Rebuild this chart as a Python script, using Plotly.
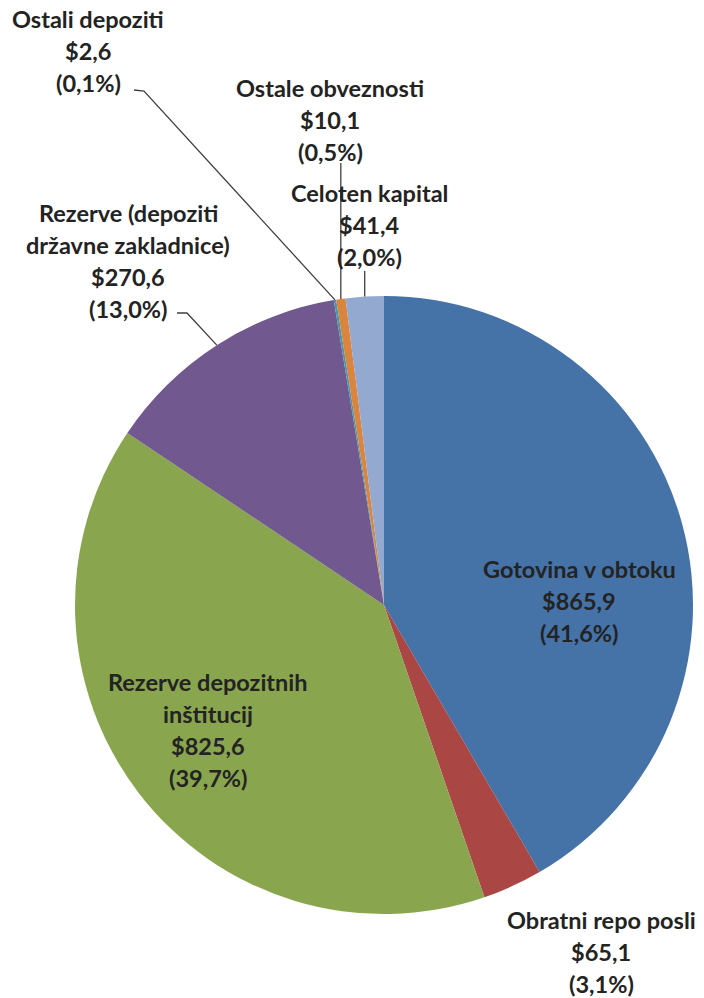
import math
import plotly.graph_objects as go

# Federal Reserve liabilities and capital (billions of USD)
categories = [
    "Gotovina v obtoku",
    "Obratni repo posli",
    "Rezerve depozitnih inštitucij",
    "Rezerve (depoziti državne zakladnice)",
    "Ostali depoziti",
    "Ostale obveznosti",
    "Celoten kapital",
]
values = [865.9, 65.1, 825.6, 270.6, 2.6, 10.1, 41.4]
colors = ["#4572A7", "#AA4643", "#89A54E", "#71588F", "#4198AF", "#DB843D", "#93A9CF"]

# label text lines (name lines; value and share are appended from the data)
label_lines = [
    ["Gotovina v obtoku"],
    ["Obratni repo posli"],
    ["Rezerve depozitnih", "inštitucij"],
    ["Rezerve (depoziti", "državne zakladnice)"],
    ["Ostali depoziti"],
    ["Ostale obveznosti"],
    ["Celoten kapital"],
]

W, H = 704, 998
CX, CY, R = 384, 605, 309          # pie centre and radius in pixels
LINE_GAP = 32                       # spacing between label lines
FONT = dict(family="Lato, 'Open Sans', sans-serif", size=23.5, color="#232323")

# label block anchors (centre x, y of first line) in pixels
label_pos = [
    (579, 569),
    (601, 920),
    (208, 682),
    (128, 213),
    (88, 19),
    (330, 88),
    (369, 193),
]
# leader line start points (near the label) for the small slices, None = no leader
leader_start = [
    None,
    None,
    None,
    [(177, 313), (187, 313)],
    [(134, 90), (144, 91)],
    "vertical:163",
    "vertical:271",
]


def px(x):
    return x / W


def py(y):
    return 1 - y / H


def fmt(v, d=1):
    return f"{v:.{d}f}".replace(".", ",")


total = sum(values)

fig = go.Figure(
    go.Pie(
        labels=categories,
        values=values,
        sort=False,
        direction="clockwise",
        rotation=0,
        marker=dict(colors=colors, line=dict(width=0)),
        textinfo="none",
        hoverinfo="label+value+percent",
        domain=dict(x=[px(CX - R), px(CX + R)], y=[py(CY + R), py(CY - R)]),
        showlegend=False,
    )
)

annotations = []
shapes = []
cum = 0.0
for i, v in enumerate(values):
    frac = v / total
    mid = (cum + frac / 2) * 2 * math.pi
    cum += frac
    # point on the pie rim at the slice's mid-angle
    ex = CX + R * math.sin(mid)
    ey = CY - R * math.cos(mid)

    lines = label_lines[i] + [f"${fmt(v)}", f"({fmt(100 * frac)}%)"]
    lx, ly = label_pos[i]
    for k, t in enumerate(lines):
        annotations.append(
            dict(
                x=px(lx), y=py(ly + k * LINE_GAP), xref="paper", yref="paper",
                text=f"<b>{t}</b>", showarrow=False, font=FONT,
                xanchor="center", yanchor="middle",
            )
        )

    ls = leader_start[i]
    if ls is None:
        continue
    if isinstance(ls, str):
        y0 = float(ls.split(":")[1])
        pts = [(ex, y0), (ex, ey)]
    else:
        pts = list(ls) + [(ex, ey)]
    path = "M " + " L ".join(f"{px(a)},{py(b)}" for a, b in pts)
    shapes.append(
        dict(type="path", path=path, xref="paper", yref="paper",
             line=dict(color="#404040", width=1.3))
    )

fig.update_layout(
    width=W,
    height=H,
    margin=dict(l=0, r=0, t=0, b=0),
    paper_bgcolor="white",
    plot_bgcolor="white",
    annotations=annotations,
    shapes=shapes,
)

fig.write_html("out.html")
